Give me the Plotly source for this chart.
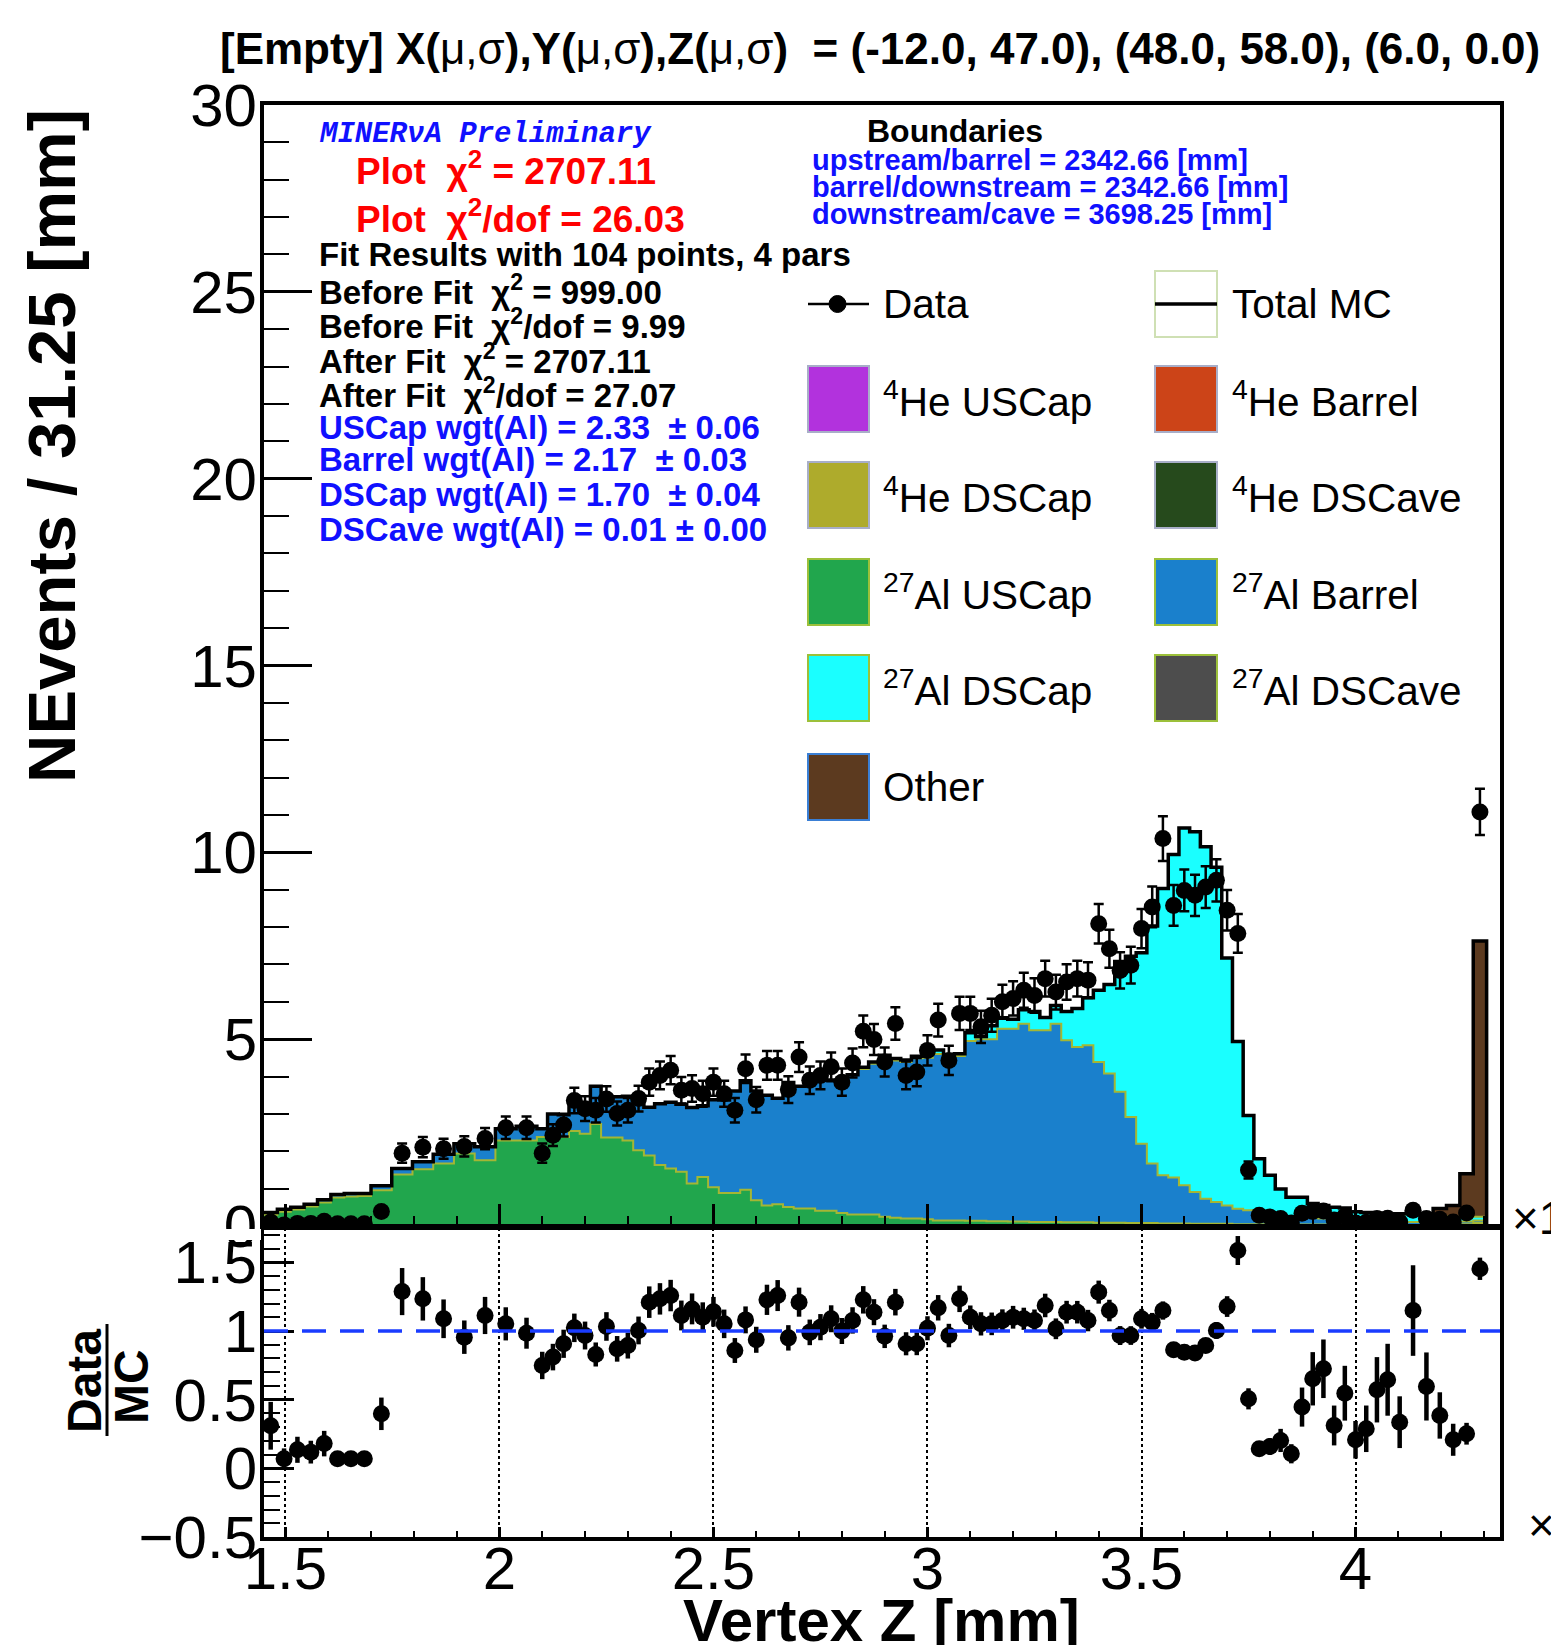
import numpy as np
import plotly.graph_objects as go

W, H = 1551, 1645

# ---------------- binning (Vertex Z, units of 10^3 mm) ----------------
seg_a = np.linspace(1.45, 1.70, 9)
seg_b = np.linspace(1.70, 2.0875, 9)[1:]
seg_c = np.linspace(2.0875, 4.0875, 81)[1:]
seg_d = np.linspace(4.0875, 4.3375, 9)[1:]
edges = np.concatenate([seg_a, seg_b, seg_c, seg_d])
centers = 0.5 * (edges[:-1] + edges[1:])

# ---------------- data (events / 31.25 mm) ----------------
data_vals = [
    0.11, 0.03, 0.07, 0.07, 0.13, 0.06, 0.06, 0.06,
    0.39, 1.95, 2.11, 2.07, 2.13, 2.34, 2.63, 2.63,
    1.95, 2.43, 2.70, 3.36, 3.14, 3.10, 3.40, 3.01, 3.10, 3.41,
    3.85, 4.03, 4.17, 3.63, 3.68, 3.54, 3.85, 3.54, 3.10, 4.21,
    3.38, 4.30, 4.30, 3.65, 4.52, 3.90, 4.03, 4.26, 3.85, 4.36,
    5.21, 4.99, 4.39, 5.42, 4.03, 4.12, 4.70, 5.51, 4.43, 5.69,
    5.69, 5.33, 5.64, 6.00, 6.09, 6.31, 6.17, 6.62, 6.26, 6.53,
    6.62, 6.58, 8.09, 7.42, 6.84, 6.98, 7.96, 8.54, 10.37, 8.58,
    8.98, 8.85, 9.07, 9.25, 8.45, 7.83, 1.50, 0.29, 0.24, 0.20,
    0.08, 0.34, 0.39, 0.40, 0.16, 0.26, 0.08, 0.10, 0.20, 0.21,
    0.11, 0.42, 0.20, 0.18, 0.11, 0.35, 11.08, None,
]

# ---------------- data / MC ratio ----------------
ratio_vals = [
    0.31, 0.07, 0.135, 0.118, 0.18, 0.07, 0.07, 0.07,
    0.397, 1.287, 1.234, 1.089, 0.955, 1.113, 1.052, 0.984,
    0.749, 0.81, 0.907, 1.023, 0.967, 0.829, 1.033, 0.87, 0.894, 1.004,
    1.21, 1.234, 1.258, 1.113, 1.161, 1.10, 1.14, 1.052, 0.858, 1.081,
    0.936, 1.227, 1.258, 0.95, 1.21, 0.99, 1.028, 1.089, 1.0, 1.077,
    1.227, 1.137, 0.961, 1.21, 0.907, 0.907, 1.02, 1.169, 0.967, 1.234,
    1.10, 1.052, 1.052, 1.076, 1.10, 1.089, 1.076, 1.186, 1.016, 1.137,
    1.137, 1.076, 1.283, 1.149, 0.967, 0.967, 1.089, 1.064, 1.149, 0.863,
    0.846, 0.839, 0.894, 1.004, 1.178, 1.586, 0.506, 0.143, 0.159, 0.203,
    0.106, 0.446, 0.652, 0.725, 0.312, 0.547, 0.208, 0.288, 0.572, 0.645,
    0.336, 1.149, 0.596, 0.385, 0.208, 0.252, 1.453, None,
]

# ---------------- MC components (stacked) ----------------
al_uscap = [
    0.30, 0.38, 0.44, 0.52, 0.63, 0.76, 0.79, 0.80,
    0.96, 1.38, 1.52, 1.67, 1.94, 1.76, 2.29, 2.29,
    2.38, 2.42, 2.38, 2.54, 2.47, 2.73, 2.37, 2.37, 2.29, 2.03,
    1.89, 1.63, 1.54, 1.45, 1.14, 1.31, 1.04, 0.88, 0.88, 0.97,
    0.69, 0.55, 0.58, 0.51, 0.47, 0.47, 0.41, 0.41, 0.35, 0.31,
    0.31, 0.31, 0.25, 0.22, 0.20, 0.20, 0.18, 0.15, 0.15, 0.15,
    0.14, 0.14, 0.13, 0.13, 0.12, 0.12, 0.11, 0.11, 0.11, 0.10,
    0.10, 0.10, 0.09, 0.09, 0.09, 0.08, 0.08, 0.08, 0.07, 0.07,
    0.07, 0.06, 0.06, 0.06, 0.06, 0.05, 0.05, 0.05, 0.05, 0.04,
    0.04, 0.04, 0.04, 0.04, 0.04, 0.04, 0.03, 0.03, 0.03, 0.03,
    0.03, 0.03, 0.03, 0.03, 0.03, 0.05, 0.08, 0.0,
]
al_barrel = [
    0.06, 0.07, 0.06, 0.06, 0.07, 0.08, 0.08, 0.07,
    0.12, 0.16, 0.20, 0.25, 0.26, 0.36, 0.31, 0.38,
    0.22, 0.58, 0.60, 0.74, 0.78, 1.01, 0.92, 1.09, 1.18, 1.37,
    1.29, 1.64, 1.77, 1.81, 2.03, 1.91, 2.34, 2.49, 2.73, 2.92,
    2.92, 2.95, 2.84, 3.33, 3.27, 3.47, 3.51, 3.50, 3.50, 3.74,
    3.89, 4.03, 4.27, 4.21, 4.19, 4.29, 4.32, 4.45, 4.40, 4.40,
    4.81, 4.86, 4.87, 5.15, 5.16, 5.29, 5.13, 5.13, 5.30, 4.87,
    4.69, 4.74, 4.30, 3.99, 3.50, 2.84, 2.12, 1.59, 1.29, 1.23,
    1.02, 0.85, 0.67, 0.58, 0.49, 0.41, 0.37, 0.32, 0.28, 0.26,
    0.23, 0.21, 0.18, 0.16, 0.14, 0.13, 0.12, 0.11, 0.10, 0.09,
    0.09, 0.08, 0.08, 0.07, 0.07, 0.07, 0.07, 0.0,
]
al_dscap = [
    0.0, 0.0, 0.0, 0.0, 0.0, 0.0, 0.0, 0.0,
    0.0, 0.0, 0.0, 0.0, 0.0, 0.0, 0.0, 0.0,
    0.0, 0.0, 0.0, 0.0, 0.0, 0.0, 0.0, 0.0, 0.0, 0.0,
    0.0, 0.0, 0.0, 0.0, 0.0, 0.0, 0.0, 0.0, 0.0, 0.0,
    0.0, 0.0, 0.0, 0.0, 0.0, 0.0, 0.0, 0.0, 0.0, 0.0,
    0.05, 0.05, 0.05, 0.05, 0.05, 0.05, 0.11, 0.11, 0.03, 0.06,
    0.22, 0.07, 0.36, 0.29, 0.25, 0.38, 0.50, 0.34, 0.49, 0.77,
    1.03, 1.27, 1.92, 2.38, 3.49, 4.30, 5.11, 6.36, 7.67, 8.64,
    9.56, 9.64, 9.42, 8.96, 6.62, 4.48, 2.54, 1.43, 1.03, 0.69,
    0.50, 0.52, 0.38, 0.35, 0.32, 0.31, 0.23, 0.22, 0.22, 0.21,
    0.19, 0.22, 0.17, 0.17, 0.15, 0.13, 0.10, 0.0,
]
other = [
    0.0, 0.0, 0.0, 0.0, 0.0, 0.0, 0.0, 0.0,
    0.0, 0.0, 0.0, 0.0, 0.0, 0.0, 0.0, 0.0,
    0.0, 0.0, 0.0, 0.0, 0.0, 0.0, 0.0, 0.0, 0.0, 0.0,
    0.0, 0.0, 0.0, 0.0, 0.0, 0.0, 0.0, 0.0, 0.0, 0.0,
    0.0, 0.0, 0.0, 0.0, 0.0, 0.0, 0.0, 0.0, 0.0, 0.0,
    0.0, 0.0, 0.0, 0.0, 0.0, 0.0, 0.0, 0.0, 0.0, 0.0,
    0.0, 0.0, 0.0, 0.0, 0.0, 0.0, 0.0, 0.0, 0.0, 0.0,
    0.0, 0.0, 0.0, 0.0, 0.0, 0.0, 0.0, 0.0, 0.0, 0.0,
    0.0, 0.0, 0.0, 0.0, 0.0, 0.0, 0.0, 0.0, 0.0, 0.0,
    0.0, 0.0, 0.0, 0.0, 0.0, 0.0, 0.0, 0.0, 0.0, 0.0,
    0.02, 0.04, 0.05, 0.20, 0.30, 1.15, 7.38, 0.0,
]

# Poisson-like error scale (events per bin -> normalised units)
ERR_SCALE = 0.186

legend_rows = [
    ("<sup>4</sup>He USCap", "#b232dd", "<sup>4</sup>He Barrel", "#cc4418"),
    ("<sup>4</sup>He DSCap", "#aeab2c", "<sup>4</sup>He DSCave", "#264a1c"),
    ("<sup>27</sup>Al USCap", "#21a64d", "<sup>27</sup>Al Barrel", "#1a80cc"),
    ("<sup>27</sup>Al DSCap", "#1affff", "<sup>27</sup>Al DSCave", "#4d4d4d"),
]
OTHER_COLOR = "#5c3a1f"
GREEN, BLUE, CYAN = "#21a64d", "#1a80cc", "#1affff"
AL_LINE = "#a4b634"

fit_lines = [
    "<b>Fit Results with 104 points, 4 pars</b>",
    "<b>Before Fit  χ<sup>2</sup> = 999.00</b>",
    "<b>Before Fit  χ<sup>2</sup>/dof = 9.99</b>",
    "<b>After Fit  χ<sup>2</sup> = 2707.11</b>",
    "<b>After Fit  χ<sup>2</sup>/dof = 27.07</b>",
]
wgt_lines = [
    "<b>USCap wgt(Al) = 2.33  ± 0.06</b>",
    "<b>Barrel wgt(Al) = 2.17  ± 0.03</b>",
    "<b>DSCap wgt(Al) = 1.70  ± 0.04</b>",
    "<b>DSCave wgt(Al) = 0.01 ± 0.00</b>",
]
bound_lines = [
    "<b>upstream/barrel = 2342.66 [mm]</b>",
    "<b>barrel/downstream = 2342.66 [mm]</b>",
    "<b>downstream/cave = 3698.25 [mm]</b>",
]

# ---------------- derived ----------------
d = np.array([np.nan if v is None else v for v in data_vals], dtype=float)
r = np.array([np.nan if v is None else v for v in ratio_vals], dtype=float)
d_err = ERR_SCALE * np.sqrt(d)
r_err = r * ERR_SCALE / np.sqrt(d)
c1 = np.array(al_uscap)
c2 = c1 + np.array(al_barrel)
c3 = c2 + np.array(al_dscap)
c4 = c3 + np.array(other)


def step(v):
    return np.append(v, v[-1])


def px(x):
    return x / W


def py(y):
    return 1 - y / H


FONT = "Liberation Sans"
XDOM = [px(264), px(1500)]
XR = [edges[0], edges[-1]]

fig = go.Figure()
fig.add_trace(go.Scatter(x=edges, y=step(c1), mode="lines", line=dict(shape="hv", color=AL_LINE, width=2),
                         fill="tozeroy", fillcolor=GREEN, hoverinfo="skip"))
fig.add_trace(go.Scatter(x=edges, y=step(c2), mode="lines", line=dict(shape="hv", color=AL_LINE, width=2),
                         fill="tonexty", fillcolor=BLUE, hoverinfo="skip"))
fig.add_trace(go.Scatter(x=edges, y=step(c3), mode="lines", line=dict(shape="hv", color=AL_LINE, width=2),
                         fill="tonexty", fillcolor=CYAN, hoverinfo="skip"))
fig.add_trace(go.Scatter(x=edges, y=step(c4), mode="lines", line=dict(shape="hv", color=OTHER_COLOR, width=0),
                         fill="tonexty", fillcolor=OTHER_COLOR, hoverinfo="skip"))
fig.add_trace(go.Scatter(x=edges, y=step(c4), mode="lines", line=dict(shape="hv", color="black", width=3.5),
                         hoverinfo="skip"))
fig.add_trace(go.Scatter(x=centers, y=d, mode="markers", marker=dict(size=17, color="black"),
                         error_y=dict(type="data", array=d_err, color="black", thickness=2.5, width=5)))
fig.add_trace(go.Scatter(x=centers, y=r, mode="markers", xaxis="x2", yaxis="y2",
                         marker=dict(size=17, color="black"),
                         error_y=dict(type="data", array=r_err, color="black", thickness=4.5, width=0)))

shapes = []
ann = []

# ratio reference line
shapes.append(dict(type="line", xref="x2", yref="y2", x0=XR[0], x1=XR[1], y0=1, y1=1,
                   line=dict(color="#1a3cff", width=3.5, dash="24px,14px")))
# hide lower part of the top panel's "0" label (pad overlap)
shapes.append(dict(type="rect", xref="paper", yref="paper", x0=px(150), x1=px(261), y0=py(1240), y1=py(1229),
                   fillcolor="white", line=dict(width=0), layer="above"))


def text(x, y, s, size, color="black", family=FONT, xanchor="left", textangle=0):
    ann.append(dict(x=px(x), y=py(y), xref="paper", yref="paper", text=s, showarrow=False,
                    xanchor=xanchor, yanchor="middle", textangle=textangle,
                    font=dict(family=family, size=size, color=color)))


# title
text(218, 48, "<b>[Empty] X(</b>μ,σ<b>),Y(</b>μ,σ<b>),Z(</b>μ,σ<b>)\u00a0\u00a0= (-12.0, 47.0), (48.0, 58.0), (6.0, 0.0)</b>",
     44)

# fit-information block
text(317, 134, "<b><i>MINERνA Preliminary</i></b>", 29, color="#1010ff", family="Liberation Mono")
text(354, 168, "<b>Plot  χ<sup>2</sup> = 2707.11</b>", 37, color="#ff0000")
text(354, 216, "<b>Plot  χ<sup>2</sup>/dof = 26.03</b>", 37, color="#ff0000")
for i, s in enumerate(fit_lines):
    text(317, [254, 290, 324, 359, 393][i], s, 33)
for i, s in enumerate(wgt_lines):
    text(317, [427, 460, 494, 529][i], s, 33, color="#1010ff")

text(955, 131, "<b>Boundaries</b>", 32, xanchor="center")
for i, s in enumerate(bound_lines):
    text(810, [160, 187, 214][i], s, 29, color="#1010ff")

# legend
COLX = [(808, 869, 881), (1155, 1217, 1230)]
ROWY = [304, 399, 495, 592, 688, 787]
LEG_SIZE = 40.5
# Data
shapes.append(dict(type="line", xref="paper", yref="paper", x0=px(808), x1=px(869), y0=py(304), y1=py(304),
                   line=dict(color="black", width=2.5)))
shapes.append(dict(type="circle", xref="paper", yref="paper", x0=px(829), x1=px(846), y0=py(312.5), y1=py(295.5),
                   fillcolor="black", line=dict(color="black", width=1)))
text(881, 304, "Data", LEG_SIZE)
# Total MC
shapes.append(dict(type="rect", xref="paper", yref="paper", x0=px(1155), x1=px(1217), y0=py(337), y1=py(271),
                   fillcolor="white", line=dict(color="#cfe0b4", width=2)))
shapes.append(dict(type="line", xref="paper", yref="paper", x0=px(1155), x1=px(1217), y0=py(304), y1=py(304),
                   line=dict(color="black", width=3.5)))
text(1230, 304, "Total MC", LEG_SIZE)
for k, (l1, col1, l2, col2) in enumerate(legend_rows):
    yc = ROWY[k + 1]
    border = "#9cc03a" if k >= 2 else "#a8aec8"
    for (x0, x1, xt), lab, col in ((COLX[0], l1, col1), (COLX[1], l2, col2)):
        shapes.append(dict(type="rect", xref="paper", yref="paper", x0=px(x0), x1=px(x1),
                           y0=py(yc + 33), y1=py(yc - 33), fillcolor=col, line=dict(color=border, width=2)))
        text(xt, yc, lab, LEG_SIZE)
shapes.append(dict(type="rect", xref="paper", yref="paper", x0=px(808), x1=px(869),
                   y0=py(ROWY[5] + 33), y1=py(ROWY[5] - 33), fillcolor=OTHER_COLOR,
                   line=dict(color="#3a7fd5", width=2)))
text(881, ROWY[5], "Other", LEG_SIZE)

# axis titles
text(51, 446, "<b>NEvents / 31.25 [mm]</b>", 67, xanchor="center", textangle=-90)
text(881, 1620, "<b>Vertex Z [mm]</b>", 60, xanchor="center")
text(84, 1381, "<b>Data</b>", 48, xanchor="center", textangle=-90)
text(131, 1387, "<b>MC</b>", 48, xanchor="center", textangle=-90)
shapes.append(dict(type="line", xref="paper", yref="paper", x0=px(107), x1=px(107), y0=py(1436), y1=py(1324),
                   line=dict(color="black", width=3)))
# exponent labels (cut by the canvas edge, as in the original)
text(1510, 1215, "×10<sup>3</sup>", 46)
text(1526, 1522, "×10<sup>3</sup>", 46)

axis_common = dict(showline=True, linecolor="black", linewidth=4, mirror=True, zeroline=False,
                   ticks="inside", tickcolor="black", tickwidth=2.5, automargin=False,
                   tickfont=dict(family=FONT, size=60, color="black"))

fig.update_layout(
    width=W, height=H, autosize=False,
    margin=dict(l=0, r=0, t=0, b=0, pad=0),
    paper_bgcolor="white", plot_bgcolor="white",
    showlegend=False,
    xaxis=dict(domain=XDOM, range=XR, anchor="y", showticklabels=False, showgrid=False,
               dtick=0.5, tick0=0, ticklen=22,
               minor=dict(ticks="inside", dtick=0.1, ticklen=10, tickwidth=2, tickcolor="black", showgrid=False),
               **axis_common),
    yaxis=dict(domain=[py(1226), py(105)], range=[0, 30], anchor="x", showgrid=False,
               dtick=5, tick0=0, ticklen=48, ticklabelstandoff=-9,
               minor=dict(ticks="inside", dtick=1, ticklen=25, tickwidth=2, tickcolor="black", showgrid=False),
               **axis_common),
    xaxis2=dict(domain=XDOM, range=XR, anchor="y2", showgrid=True, gridcolor="black", griddash="dot",
                gridwidth=2, dtick=0.5, tick0=0, ticklen=10, ticklabelstandoff=-24,
                minor=dict(ticks="inside", dtick=0.1, ticklen=6, tickwidth=2, tickcolor="black", showgrid=False),
                **axis_common),
    yaxis2=dict(domain=[py(1537), py(1228)], range=[-0.5, 1.75], anchor="x2", showgrid=False,
                tickvals=[-0.5, 0, 0.5, 1, 1.5], ticklen=30, ticklabelstandoff=-9,
                minor=dict(ticks="inside", dtick=0.1, ticklen=16, tickwidth=2, tickcolor="black", showgrid=False),
                **axis_common),
    shapes=shapes,
    annotations=ann,
)

fig.write_html("out.html")
